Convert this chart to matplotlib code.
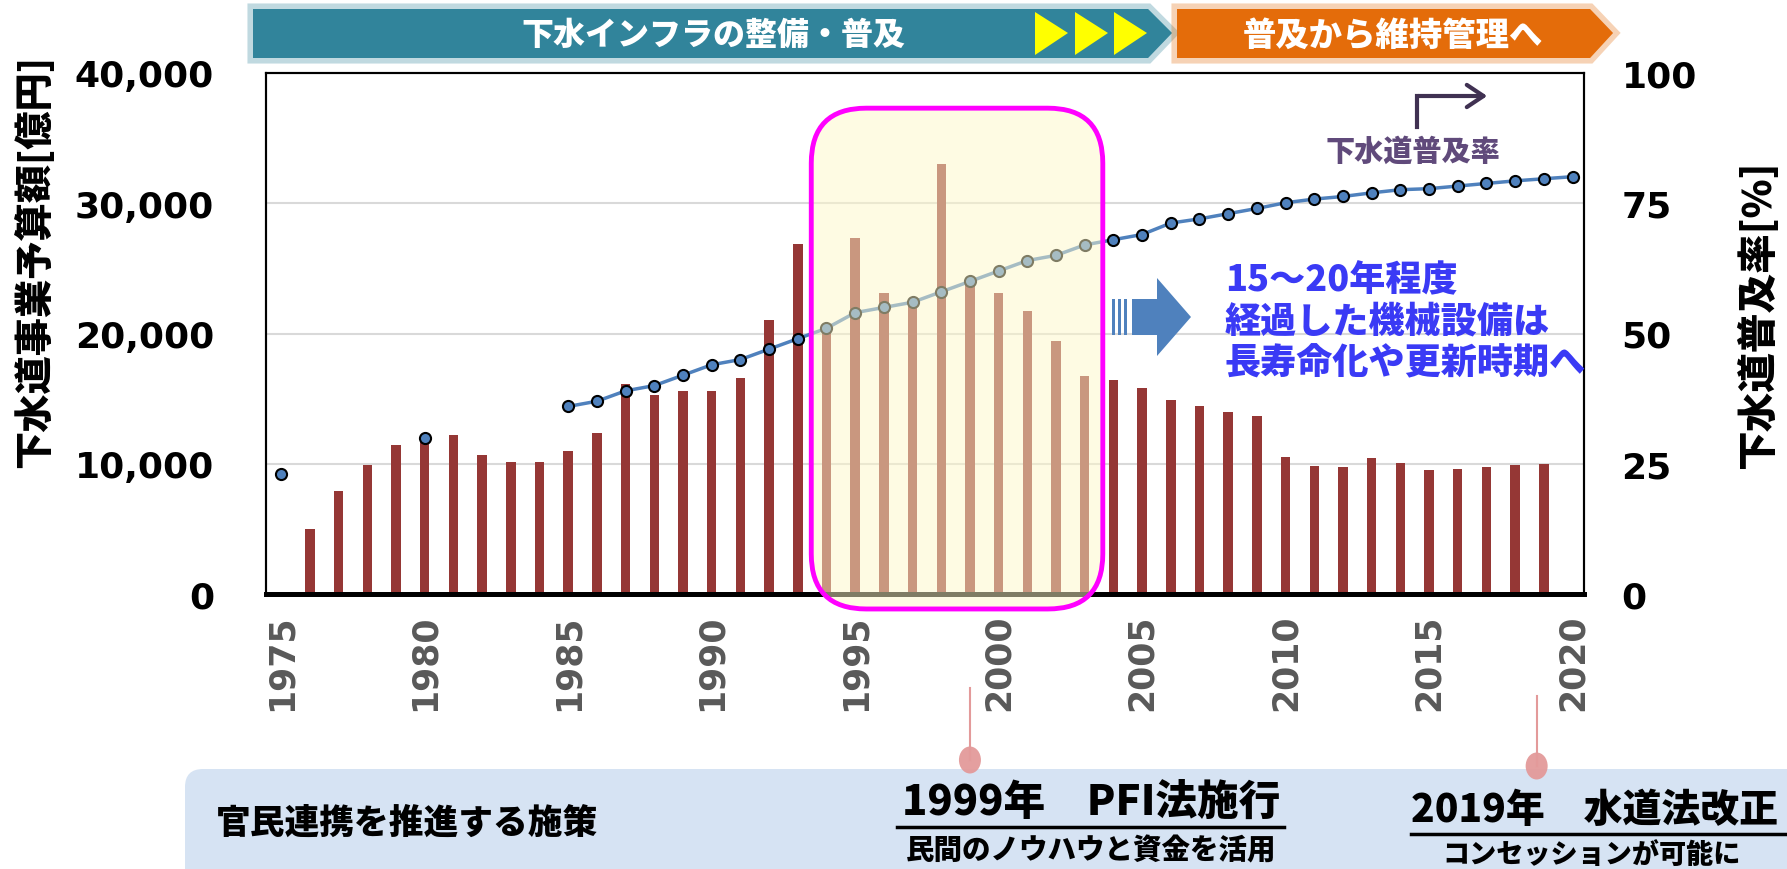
import matplotlib
matplotlib.use("Agg")
import matplotlib.pyplot as plt
import matplotlib.patheffects as pe
from matplotlib.patches import Polygon, FancyBboxPatch, Ellipse, Rectangle, FancyArrowPatch
from matplotlib.lines import Line2D
from matplotlib.transforms import IdentityTransform

plt.rcParams['font.family'] = ['Noto Sans CJK JP', 'DejaVu Sans']

W, H = 1787, 870

# 下水道事業予算額 [億円]
budget_years = list(range(1976, 2020))
budget = [5000, 7900, 9900, 11450, 12100, 12200, 10650, 10100, 10100, 10950,
          12350, 16150, 15250, 15600, 15600, 16600, 21050, 26900, 20400, 27300,
          23100, 22400, 33000, 23800, 23100, 21700, 19400, 16700, 16400, 15800,
          14900, 14400, 13950, 13700, 10500, 9850, 9750, 10450, 10050, 9500,
          9600, 9750, 9900, 9950]

# 下水道普及率 [%]
rate_years_early = [1975, 1980]
rate_early = [23.1, 30.0]
rate_years = list(range(1985, 2021))
rate = [36.0, 37.0, 39.0, 40.0, 42.0, 44.0, 45.0, 47.0, 49.0, 51.0,
        54.0, 55.0, 56.0, 58.0, 60.0, 62.0, 64.0, 65.0, 67.0, 68.0,
        69.0, 71.2, 72.0, 73.0, 74.0, 75.1, 75.8, 76.3, 77.0, 77.6,
        77.8, 78.3, 78.8, 79.3, 79.7, 80.1]

left_ticks = [0, 10000, 20000, 30000, 40000]
right_ticks = [0, 25, 50, 75, 100]
year_ticks = list(range(1975, 2021, 5))

highlight_years = (1993.47, 2003.63)
event_years = [1999, 2018.75]

BAR = '#953735'
LINE = '#4F81BD'
JW = 'heavy'

fig = plt.figure(figsize=(W / 100, H / 100), dpi=100)
ax = fig.add_axes([265.5 / W, 1 - 595 / H, (1584 - 265.5) / W, (595 - 74) / H])

ax.bar(budget_years, budget, width=0.33, color=BAR, zorder=2)
ax.set_xlim(1974.45, 2020.4)
ax.set_ylim(0, 40000)
ax.set_yticks(left_ticks)
ax.set_yticklabels([f"{v:,}" for v in left_ticks], fontsize=26, fontweight='bold',
                   family='DejaVu Sans')
ax.set_xticks(year_ticks)
ax.set_xticklabels([str(y) for y in year_ticks], rotation=90, fontsize=25,
                   fontweight='bold', color='#595959', family='DejaVu Sans')
ax.tick_params(axis='y', length=0, pad=37)
ax.tick_params(axis='x', length=0, pad=14)
ax.grid(axis='y', color='#D9D9D9', linewidth=1.5)
ax.set_axisbelow(True)

ax2 = ax.twinx()
ax2.set_ylim(0, 100)
ax2.set_yticks(right_ticks)
ax2.set_yticklabels([str(v) for v in right_ticks], fontsize=26, fontweight='bold',
                    family='DejaVu Sans')
ax2.tick_params(axis='y', length=0, pad=27)
ax2.plot(rate_years_early, rate_early, 'o', color=LINE, markersize=8,
         markeredgecolor='black', markeredgewidth=1.5, clip_on=False)
ax2.plot(rate_years, rate, '-o', color=LINE, linewidth=2.5, markersize=8,
         markeredgecolor='black', markeredgewidth=1.5, clip_on=False)

for a in (ax, ax2):
    for s in a.spines.values():
        s.set_color('black')
        s.set_linewidth(1.5)
    a.spines['bottom'].set_linewidth(3.5)

ident = IdentityTransform()


def P(x, y):
    return (x, H - y)


# highlight box over 1994-2003
x0, y0 = ax.transData.transform((highlight_years[0], -1150))
x1, y1 = ax.transData.transform((highlight_years[1], 37300))
fig.add_artist(FancyBboxPatch((x0, y0), x1 - x0, y1 - y0,
                              boxstyle="round,pad=0,rounding_size=55",
                              facecolor=(254 / 255, 248 / 255, 201 / 255, 0.5),
                              edgecolor='#FF00FF', linewidth=3.5, transform=ident, zorder=5))

# top banners
glow = lambda c: [pe.Stroke(linewidth=8, foreground=c, alpha=0.3), pe.Normal()]
teal = Polygon([P(253, 10), P(1148, 10), P(1172, 34), P(1148, 59), P(253, 59)],
               closed=True, facecolor='#31849B', edgecolor='none', transform=ident)
teal.set_path_effects(glow('#31849B'))
fig.add_artist(teal)
orange = Polygon([P(1177, 10), P(1590, 10), P(1613, 34), P(1590, 59), P(1177, 59)],
                 closed=True, facecolor='#E46C0A', edgecolor='none', transform=ident)
orange.set_path_effects(glow('#E46C0A'))
fig.add_artist(orange)
for tx in [1035, 1075, 1114]:
    fig.add_artist(Polygon([P(tx, 13), P(tx + 33, 34), P(tx, 56)], closed=True,
                           facecolor='#FFFF00', edgecolor='none', transform=ident))
fig.text(713, H - 35, "下水インフラの整備・普及", transform=ident, ha='center', va='center',
         fontsize=23, fontweight=JW, color='white')
fig.text(1393, H - 35, "普及から維持管理へ", transform=ident, ha='center', va='center',
         fontsize=24, fontweight=JW, color='white')

# axis titles
fig.text(34, H - 262, "下水道事業予算額[億円]", transform=ident, rotation=90,
         ha='center', va='center', fontsize=27.5, fontweight=JW)
fig.text(1757, H - 315, "下水道普及率[%]", transform=ident, rotation=90,
         ha='center', va='center', fontsize=28.5, fontweight=JW)

# series label with bent arrow
fig.add_artist(Line2D([1417, 1417], [H - 128, H - 97], color='#403152',
                      linewidth=3, transform=ident))
fig.add_artist(FancyArrowPatch(P(1416, 97), P(1490, 97), arrowstyle='->,head_length=12,head_width=8',
                               color='#403152', linewidth=3, transform=ident))
fig.text(1413, H - 152, "下水道普及率", transform=ident, ha='center', va='center',
         fontsize=21, fontweight=JW, color='#604A7B')

# blue block arrow and message
fig.add_artist(Polygon([P(1132, 300), P(1157, 300), P(1157, 279), P(1191, 318),
                        P(1157, 357), P(1157, 336), P(1132, 336)], closed=True,
                       facecolor=LINE, edgecolor='none', transform=ident))
for sx in [1112, 1118, 1124]:
    fig.add_artist(Rectangle(P(sx, 336), 3, 36, facecolor=LINE, edgecolor='none',
                             transform=ident))
fig.text(1225, H - 322, "15～20年程度\n経過した機械設備は\n長寿命化や更新時期へ",
         transform=ident, ha='left', va='center', fontsize=26, fontweight=JW,
         color='#3A3AF5', linespacing=1.2)

# bottom policy band
fig.add_artist(FancyBboxPatch((185, -40), 1700, H - 770 + 40,
                              boxstyle="round,pad=0,rounding_size=18",
                              facecolor='#D6E3F3', edgecolor='none', transform=ident))
fig.text(216, H - 823, "官民連携を推進する施策", transform=ident, ha='left', va='center',
         fontsize=25, fontweight=JW)
fig.text(1091, H - 803, "1999年　PFI法施行", transform=ident, ha='center', va='center',
         fontsize=30, fontweight=JW)
fig.add_artist(Line2D([897, 1284], [H - 828, H - 828], color='black', linewidth=2.5,
                      transform=ident))
fig.text(1091, H - 851, "民間のノウハウと資金を活用", transform=ident, ha='center',
         va='center', fontsize=20.5, fontweight=JW)
fig.text(1411, H - 810, "2019年　水道法改正", transform=ident, ha='left', va='center',
         fontsize=28, fontweight=JW)
fig.add_artist(Line2D([1411, 1800], [H - 835, H - 835], color='black', linewidth=2.5,
                      transform=ident))
fig.text(1592, H - 855, "コンセッションが可能に", transform=ident, ha='center',
         va='center', fontsize=19.5, fontweight=JW)

# event markers
for ey, top, cy in zip(event_years, [689, 697], [761, 767]):
    ex = ax.transData.transform((ey, 0))[0]
    fig.add_artist(Line2D([ex, ex], [H - top, H - cy], color='#E39A9A', linewidth=1.5,
                          transform=ident))
    fig.add_artist(Ellipse((ex, H - cy), 22, 27, facecolor='#E39A9A', edgecolor='none',
                           alpha=0.95, transform=ident))

fig.savefig("out.png", dpi=100)
